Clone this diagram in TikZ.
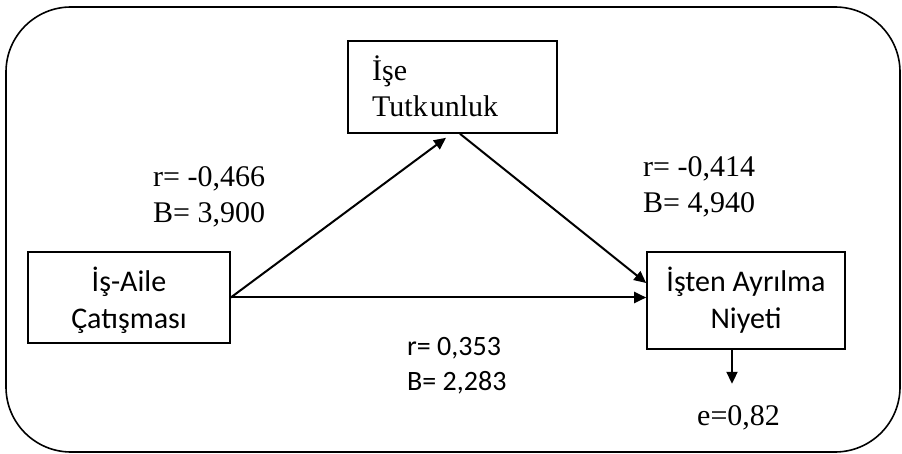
\documentclass[tikz,border=0pt]{standalone}
\usepackage{fontspec}
\setmainfont{Liberation Serif}
\newfontfamily\timesfont{Liberation Serif}
\newfontfamily\califont{Carlito}
\usetikzlibrary{arrows.meta,calc}
\tikzset{
  varbox/.style={draw, line width=1.6pt, rectangle, inner sep=0pt},
  cfont/.style={font=\califont\fontsize{30}{36}\selectfont},
  tfont/.style={font=\timesfont\fontsize{30}{36}\selectfont},
  lbl/.style={tfont, align=left, anchor=base west, inner sep=0pt},
  ctext/.style={cfont, align=center, anchor=base, inner sep=0pt},
  path/.style={line width=2pt, -{Triangle[length=12pt,width=11pt]}}
}
\begin{document}
\begin{tikzpicture}[x=1pt,y=-1pt]
\useasboundingbox (0,0) rectangle (902,454);
\draw[line width=1.6pt, rounded corners=65pt] (6,7) rectangle (900,452);
% boxes
\node[varbox, minimum width=202pt, minimum height=91pt] (ia) at (129,297.5) {};
\node[varbox, minimum width=209pt, minimum height=92pt] (tk) at (452.5,87) {};
\node[varbox, minimum width=198pt, minimum height=97pt] (iy) at (746,300.5) {};
% box texts
\node[ctext] (iatext) at (129,328) {İş-Aile\\Çatışması};
\node[lbl] (tktext) at (372,117) {İşe\\Tutk\kern2pt unluk};
\node[ctext] (iytext) at (746,328) {İşten Ayrılma\\Niyeti};
% connector end points
\coordinate (tkin) at ($(tk.south)+(-6.5,4)$);
\coordinate (tkout) at ($(tk.south)+(7.5,0)$);
\coordinate (iyin) at ($(iy.west)+(0,-17.5)$);
\coordinate (iyout) at ($(iy.south)+(-14,0)$);
\coordinate (eend) at ($(iyout)+(0,34)$);
% connectors
\draw[path] (ia.east) -- (tkin);
\draw[path] (tkout) -- (iyin);
\draw[path] (ia.east) -- (ia.east -| iy.west);
\draw[path] (iyout) -- (eend);
% labels
\node[lbl] (l1) at (153,223) {r= -0,466\\B= 3,900};
\node[lbl] (l2) at (643,213) {r= -0,414\\B= 4,940};
\node[lbl, font=\califont\fontsize{28}{35}\selectfont] (l3) at (407,390) {r= 0,353\\B= 2,283};
\node[lbl] (err) at (697,425) {e=0,82};
\end{tikzpicture}
\end{document}
